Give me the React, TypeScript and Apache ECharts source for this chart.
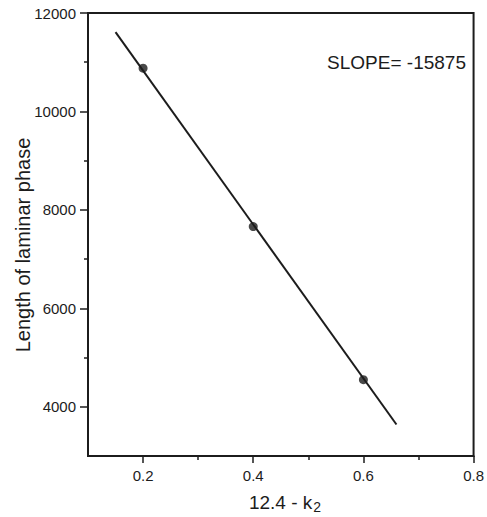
import React, { useEffect, useRef } from "react";
import * as echarts from "echarts";

// Data
const pointX = [0.2, 0.4, 0.6];
const pointY = [10880, 7660, 4550];
const fitX = [0.15, 0.66];
const fitY = [11610, 3640];
const xLabelTicks = [0.2, 0.4, 0.6, 0.8];
const xMinorTicks = [0.3, 0.5, 0.7];
const yLabelTicks = [4000, 6000, 8000, 10000, 12000];
const yMinorTicks = [5000, 7000, 9000, 11000];
const slopeText = "SLOPE= -15875";
const xTitle = "12.4 - k";
const xTitleSub = "2";
const yTitle = "Length of laminar phase";

const INK = "#1c1c1c";
const FONT = "'Liberation Sans', Arial, Helvetica, sans-serif";

export default function App() {
  const ref = useRef<HTMLDivElement>(null);
  useEffect(() => {
    if (!ref.current) return;
    const chart = echarts.init(ref.current, null, { renderer: "svg" });
    const xBase = {
      type: "value",
      min: 0.1,
      max: 0.8,
      gridIndex: 0,
    };
    const yBase = {
      type: "value",
      min: 3000,
      max: 12000,
      gridIndex: 0,
    };
    chart.setOption({
      animation: false,
      backgroundColor: "#ffffff",
      textStyle: { fontFamily: FONT },
      grid: {
        left: 88,
        top: 13,
        right: 11,
        bottom: 61,
        show: true,
        borderColor: INK,
        borderWidth: 2,
        backgroundColor: "transparent",
      },
      xAxis: [
        {
          ...xBase,
          axisLine: { show: true, onZero: false, lineStyle: { color: INK, width: 2 } },
          axisTick: {
            show: true,
            customValues: xLabelTicks,
            length: 7,
            lineStyle: { color: INK, width: 1.5 },
          },
          axisLabel: {
            customValues: xLabelTicks,
            color: INK,
            fontSize: 15,
            fontFamily: FONT,
            margin: 12,
            formatter: (v: number) => v.toFixed(1),
          },
          splitLine: { show: false },
        },
        {
          ...xBase,
          position: "bottom",
          axisLine: { show: false, onZero: false },
          axisTick: {
            show: true,
            customValues: xMinorTicks,
            length: 4,
            lineStyle: { color: INK, width: 1.5 },
          },
          axisLabel: { show: false },
          splitLine: { show: false },
        },
      ],
      yAxis: [
        {
          ...yBase,
          axisLine: { show: true, onZero: false, lineStyle: { color: INK, width: 2 } },
          axisTick: {
            show: true,
            customValues: yLabelTicks,
            length: 8,
            lineStyle: { color: INK, width: 1.5 },
          },
          axisLabel: {
            customValues: yLabelTicks,
            color: INK,
            fontSize: 15,
            fontFamily: FONT,
            margin: 12,
            formatter: (v: number) => String(v),
          },
          splitLine: { show: false },
        },
        {
          ...yBase,
          position: "left",
          axisLine: { show: false, onZero: false },
          axisTick: {
            show: true,
            customValues: yMinorTicks,
            length: 4,
            lineStyle: { color: INK, width: 1.5 },
          },
          axisLabel: { show: false },
          splitLine: { show: false },
        },
      ],
      series: [
        {
          type: "line",
          xAxisIndex: 0,
          yAxisIndex: 0,
          data: fitX.map((x, i) => [x, fitY[i]]),
          showSymbol: false,
          symbol: "none",
          lineStyle: { color: INK, width: 2 },
          z: 2,
        },
        {
          type: "scatter",
          xAxisIndex: 0,
          yAxisIndex: 0,
          data: pointX.map((x, i) => [x, pointY[i]]),
          symbol: "circle",
          symbolSize: 9,
          itemStyle: { color: INK },
          z: 3,
        },
      ],
      graphic: [
        {
          type: "text",
          right: 21,
          top: 53,
          style: {
            text: slopeText,
            fill: INK,
            font: `19px ${FONT}`,
          },
        },
        {
          type: "text",
          x: 23,
          y: 245,
          rotation: Math.PI / 2,
          style: {
            text: yTitle,
            fill: INK,
            font: `20px ${FONT}`,
            align: "center",
            verticalAlign: "middle",
          },
        },
        {
          type: "text",
          x: 285,
          y: 502,
          style: {
            text: `{m|${xTitle}}{s|${xTitleSub}}`,
            align: "center",
            verticalAlign: "middle",
            rich: {
              m: { fontSize: 19, fontFamily: FONT, fill: INK, color: INK },
              s: {
                fontSize: 14,
                fontFamily: FONT,
                fill: INK,
                color: INK,
                padding: [10, 0, 0, 1],
              },
            },
          },
        },
      ],
    });
    return () => chart.dispose();
  }, []);
  return (
    <div
      ref={ref}
      style={{ position: "fixed", left: 0, top: 0, width: 487, height: 517, background: "#fff" }}
    />
  );
}
